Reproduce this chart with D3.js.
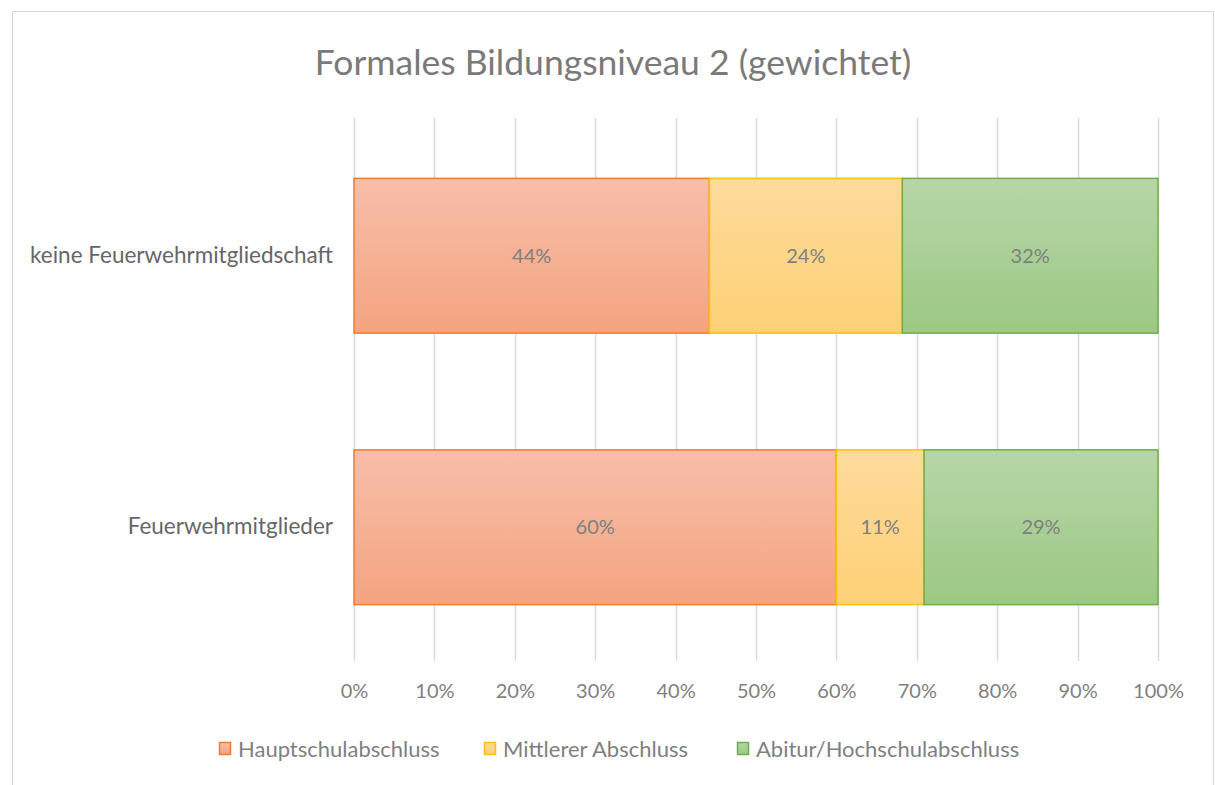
<!DOCTYPE html>
<html><head><meta charset="utf-8">
<script src="https://cdn.jsdelivr.net/npm/d3@7"></script>
<style>
html,body{margin:0;padding:0;background:#fff;}
svg{display:block;font-family:Lato,"Open Sans",sans-serif;}
</style></head>
<body><svg id="c" width="1215" height="785"></svg>
<script>
const categories = ["keine Feuerwehrmitgliedschaft", "Feuerwehrmitglieder"];
const seriesNames = ["Hauptschulabschluss", "Mittlerer Abschluss", "Abitur/Hochschulabschluss"];
const hauptschul = [44.2, 60.0];
const mittlerer = [24.0, 10.9];
const abitur = [31.8, 29.1];
const labels = [["44%", "24%", "32%"], ["60%", "11%", "29%"]];
const tickValues = [0,10,20,30,40,50,60,70,80,90,100];

const strokes = ["#ED7D31", "#FFC000", "#70AD47"];
const gradTop = ["#F7BEA8", "#FEDB9C", "#B6D6A8"];
const gradBot = ["#F4A480", "#FED176", "#9CC883"];

const svg = d3.select("#c");
const defs = svg.append("defs");
seriesNames.forEach((s,i)=>{
  const g = defs.append("linearGradient").attr("id","g"+i).attr("x1",0).attr("y1",0).attr("x2",0).attr("y2",1);
  g.append("stop").attr("offset","0%").attr("stop-color",gradTop[i]);
  g.append("stop").attr("offset","100%").attr("stop-color",gradBot[i]);
});

svg.append("rect").attr("x",12.5).attr("y",11.5).attr("width",1201).attr("height",790)
  .attr("fill","#fff").attr("stroke","#D9D9D9").attr("stroke-width",1);

svg.append("text").attr("x",613).attr("y",75).attr("text-anchor","middle")
  .attr("font-size",35.5).attr("fill","#7A7A7A").text("Formales Bildungsniveau 2 (gewichtet)");

const x = d3.scaleLinear().domain([0,100]).range([354,1158]);
const y = d3.scaleBand().domain(categories).range([120,663]).paddingInner(0.43).paddingOuter(0.215);

// gridlines
svg.append("g").selectAll("line").data(tickValues).join("line")
  .attr("x1",d=>Math.round(x(d))+0.5).attr("x2",d=>Math.round(x(d))+0.5)
  .attr("y1",118).attr("y2",661).attr("stroke","#D9D9D9").attr("stroke-width",1.5);

// x axis
const xAxis = d3.axisBottom(x).tickValues(tickValues).tickFormat(d=>d+"%").tickSize(0);
const gx = svg.append("g").attr("transform","translate(0,681)").call(xAxis);
gx.select(".domain").remove();
gx.selectAll("text").attr("font-size",20).attr("fill","#7F7F7F").attr("font-family","Lato,sans-serif").attr("dy","0.71em");

// y axis labels
const yAxis = d3.axisLeft(y).tickSize(0).tickPadding(21);
const gy = svg.append("g").attr("transform","translate(354,0)").call(yAxis);
gy.select(".domain").remove();
gy.selectAll("text").attr("font-size",22.5).attr("fill","#666666").attr("font-family","Lato,sans-serif");

// stacked data
const rows = categories.map((c,i)=>({cat:c, s0:hauptschul[i], s1:mittlerer[i], s2:abitur[i]}));
const stack = d3.stack().keys(["s0","s1","s2"])(rows);

stack.forEach((layer,si)=>{
  const g = svg.append("g");
  g.selectAll("rect").data(layer).join("rect")
    .attr("x",d=>x(d[0])).attr("width",d=>x(d[1])-x(d[0]))
    .attr("y",d=>y(d.data.cat)).attr("height",y.bandwidth())
    .attr("fill","url(#g"+si+")").attr("stroke",strokes[si]).attr("stroke-width",1.5);
  g.selectAll("text").data(layer).join("text")
    .attr("x",d=>(x(d[0])+x(d[1]))/2).attr("y",d=>y(d.data.cat)+y.bandwidth()/2)
    .attr("text-anchor","middle").attr("dy","0.35em").attr("font-size",20).attr("fill","#7F7F7F")
    .text((d,i)=>labels[i][si]);
});

// legend
const legX = [219, 484, 737];
const lg = svg.append("g");
seriesNames.forEach((s,i)=>{
  lg.append("rect").attr("x",legX[i]+0.5).attr("y",742.5).attr("width",11).attr("height",12)
    .attr("fill","url(#g"+i+")").attr("stroke",strokes[i]).attr("stroke-width",1.5);
  lg.append("text").attr("x",legX[i]+19).attr("y",749).attr("dy","0.35em")
    .attr("font-size",22).attr("fill","#7F7F7F").text(s);
});
</script></body></html>
